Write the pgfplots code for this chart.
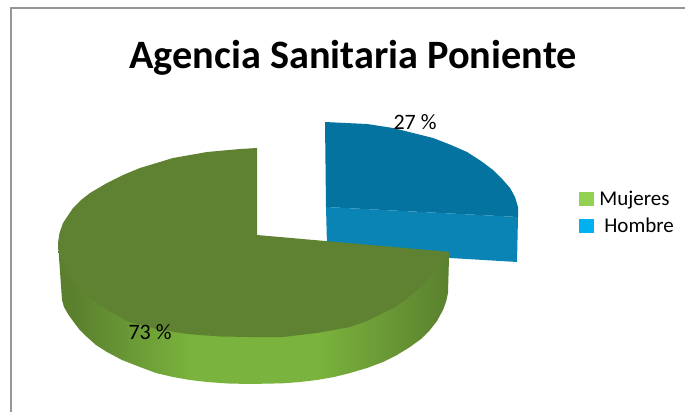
\documentclass[border=0pt]{standalone}
\usepackage{pgfplots}
\pgfplotsset{compat=1.18}
\usepackage{fontspec}
\setmainfont{Carlito}

\definecolor{greentop}{HTML}{5F8232}
\definecolor{greenside}{HTML}{7AB33D}
\definecolor{greenedge}{HTML}{5A802E}
\definecolor{bluetop}{HTML}{04739F}
\definecolor{blueside}{HTML}{0A84B5}
\definecolor{legmuj}{HTML}{92D050}
\definecolor{leghom}{HTML}{00B0F0}
\definecolor{frame}{HTML}{969696}

% the path fills the 25bp to 75bp part of this
\pgfdeclarehorizontalshading{greenband}{100bp}{
    color(0bp)=(greenedge); color(27bp)=(greenedge); color(42bp)=(greenside);
    color(58bp)=(greenside); color(75bp)=(greenedge); color(100bp)=(greenedge)}

\begin{document}
\begin{tikzpicture}
\begin{axis}[
    width=685pt, height=412pt,
    scale only axis,
    xmin=0, xmax=685, ymin=0, ymax=412,
    y dir=reverse,
    hide axis,
    clip=true,
    legend style={draw=none, fill=none, at={(axis cs:579,190)}, anchor=north west,
        font=\fontsize{21}{22}\selectfont, row sep=9pt, inner sep=0pt, outer sep=0pt,
        nodes={inner sep=1pt}},
    legend cell align=left,
    legend image code/.code={\fill[#1] (0pt,-6.5pt) rectangle (14pt,6.5pt);},
]
% legend entries first, the shapes below do not add any
\addlegendimage{legmuj}
\addlegendentry{\hspace{5pt}Mujeres}
\addlegendimage{leghom}
\addlegendentry{\hspace{10pt}Hombre}

% keep the whole 685x412 area as the page
\path (axis cs:0,0) rectangle (axis cs:685,412);

% frame
\addplot[forget plot, frame, line width=2pt] coordinates {(11,412) (11,8) (685,8)};

% Hombre 27 %, side then top
\addplot[forget plot, fill=blueside, draw=none] coordinates {
    (326,207) (518,217) (517,262) (450,258) (440,257) (327,245) (326,207)};
\addplot[forget plot, fill=bluetop, draw=none] coordinates {
    (325,122) (346,123) (367,124) (380,126) (393,128) (413,133) (433,138) (451,145)
    (467,152) (481,161) (493,170) (503,180) (510,188) (515,197) (518,207) (518,217)
    (326,207) (325,122)};

% Mujeres 73 %, side then top
\addplot[forget plot, shade, shading=greenband, draw=none] coordinates {
    (450,252) (449,258) (448,293) (446,302) (443,310) (437,321) (430,330) (421,339) (410,347)
    (397,355) (383,362) (367,368) (350,373) (334,377) (317,380) (300,382) (283,383.3)
    (250,384) (228,383.5) (207,382) (190,380) (173,377) (156,373) (140,367) (122,360)
    (107,352) (96,345) (87,337) (79,329) (73,321) (68,314) (64,307) (62,300) (58,243)
    (254,242) (450,252)};
\addplot[forget plot, fill=greentop, draw=none] coordinates {
    (257,148) (240,149) (207,152) (173,158) (140,168) (123,175) (107,183) (90,193) (81,200)
    (73,208) (63,223) (59.5,233) (58,243) (61,260) (70,278) (84,293) (104,308) (127,321)
    (156,329) (187,334) (220,336.5) (250,337) (283,337) (317,333) (350,327) (367,321) (383,313)
    (395,307) (405,300) (420,288) (437,270) (445,260) (450,252) (257,235) (257,148)};

\node[font=\bfseries\fontsize{40.3}{40.3}\selectfont, anchor=base] at (axis cs:353,69) {Agencia Sanitaria Poniente};
\node[font=\fontsize{22}{22}\selectfont] at (axis cs:150,332) {73 \%};
\node[font=\fontsize{22}{22}\selectfont] at (axis cs:415,122) {27 \%};
\end{axis}
\end{tikzpicture}
\end{document}
